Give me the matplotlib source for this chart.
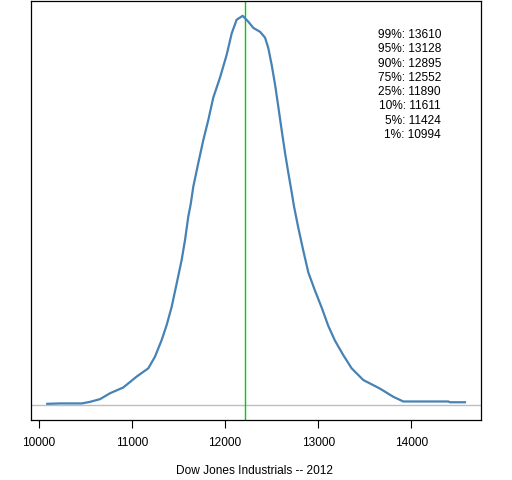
import matplotlib
matplotlib.use("Agg")
import matplotlib.pyplot as plt

plt.rcParams['font.family'] = ['Liberation Sans', 'DejaVu Sans']

# Densidade estimada (altura relativa, pico = 1)
dow_x = [10092, 10229, 10461, 10550, 10658, 10765, 10908, 11052, 11176, 11248,
         11320, 11373, 11427, 11481, 11534, 11570, 11605, 11631, 11659, 11712,
         11766, 11820, 11873, 11946, 12017, 12071, 12124, 12189, 12249, 12303,
         12375, 12429, 12464, 12500, 12536, 12571, 12607, 12643, 12678, 12715,
         12739, 12785, 12839, 12893, 12965, 13036, 13107, 13179, 13268, 13358,
         13483, 13662, 13805, 13912, 14395, 14413, 14574]
densidade = [0.003, 0.004, 0.004, 0.008, 0.015, 0.030, 0.045, 0.073, 0.094, 0.124,
             0.167, 0.205, 0.252, 0.312, 0.372, 0.423, 0.483, 0.515, 0.560, 0.620,
             0.679, 0.731, 0.788, 0.840, 0.898, 0.953, 0.988, 0.998, 0.983, 0.967,
             0.957, 0.942, 0.915, 0.872, 0.822, 0.765, 0.705, 0.647, 0.596, 0.545,
             0.510, 0.455, 0.396, 0.340, 0.293, 0.250, 0.203, 0.165, 0.128, 0.094,
             0.064, 0.042, 0.021, 0.009, 0.009, 0.007, 0.007]

valor_atual = 12217
quantis = ["99%", "95%", "90%", "75%", "25%", "10%", "5%", "1%"]
valores_quantis = [13610, 13128, 12895, 12552, 11890, 11611, 11424, 10994]
ticks_x = [10000, 11000, 12000, 13000, 14000]

fig = plt.figure(figsize=(5.12, 4.8), dpi=100)
ax = fig.add_axes([30.5 / 512, 60 / 480, 450.5 / 512, 419 / 480])

ax.axhline(0, color="#BEBEBE", linewidth=1, zorder=1)
ax.axvline(valor_atual, color="#00CC00", linewidth=1, zorder=1)
ax.plot(dow_x, densidade, color="#4682B4", linewidth=1.6, zorder=2)

ax.set_xlim(9912, 14746)
ax.set_ylim(-0.0385, 1.036)
ax.set_xticks(ticks_x)
ax.set_xticklabels([str(t) for t in ticks_x], fontsize=8.6)
ax.set_yticks([])
ax.tick_params(axis="x", direction="out", length=5.8, width=0.8, pad=6.5)
for s in ax.spines.values():
    s.set_linewidth(0.9)

for i, (q, v) in enumerate(zip(quantis, valores_quantis)):
    ax.text(0.911, 0.919 - i * 14.3 / 419, f"{q}: {v}", transform=ax.transAxes,
            ha="right", va="center", fontsize=8.6)

fig.text(255 / 512, 1 - 471 / 480, "Dow Jones Industrials -- 2012",
         ha="center", va="center", fontsize=8.6)

fig.savefig("out.png", dpi=100)
